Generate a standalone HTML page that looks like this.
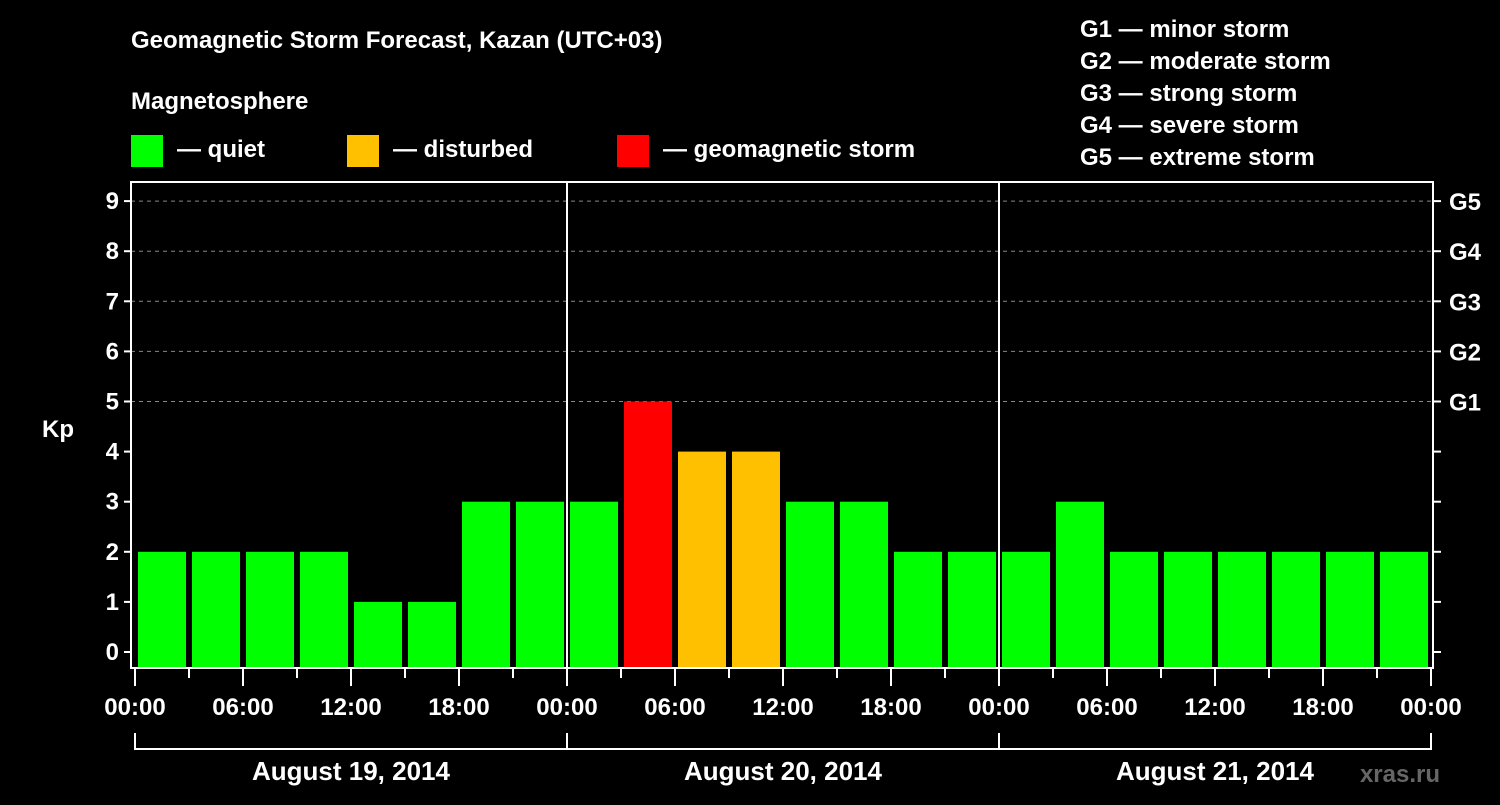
<!DOCTYPE html>
<html><head><meta charset="utf-8"><style>
body{margin:0;background:#000;}
svg text{font-family:"Liberation Sans",Arial,sans-serif;font-weight:bold;fill:#fff;}
</style></head><body>
<svg id="c" width="1500" height="800">
<text x="131" y="48" font-size="24">Geomagnetic Storm Forecast, Kazan (UTC+03)</text>
<text x="131" y="109" font-size="24">Magnetosphere</text>
<g><rect x="131" y="135" width="32" height="32" fill="#00ff00"/><text x="177" y="157" font-size="24">— quiet</text></g>
<g><rect x="347" y="135" width="32" height="32" fill="#ffc000"/><text x="393" y="157" font-size="24">— disturbed</text></g>
<g><rect x="617" y="135" width="32" height="32" fill="#ff0000"/><text x="663" y="157" font-size="24">— geomagnetic storm</text></g>
<g font-size="24">
<text x="1080" y="37">G1 — minor storm</text>
<text x="1080" y="69">G2 — moderate storm</text>
<text x="1080" y="101">G3 — strong storm</text>
<text x="1080" y="133">G4 — severe storm</text>
<text x="1080" y="165">G5 — extreme storm</text>
</g>
<text x="42" y="437" font-size="24">Kp</text>
<text x="1440" y="782" font-size="24" fill="#555" style="fill:#666" text-anchor="end">xras.ru</text>
<g id="plot"></g>
</svg>
<script>
const kpValues=[2,2,2,2,1,1,3,3, 3,5,4,4,3,3,2,2, 2,3,2,2,2,2,2,2];
const dayLabels=["August 19, 2014","August 20, 2014","August 21, 2014"];
const timeLabels=["00:00","06:00","12:00","18:00"];
const gLabels=["G1","G2","G3","G4","G5"];
const L=131,R=1433,T=182,B=668,X0=135,SLOT=54;
const y=v=>652-v*50.1;
const xs=i=>X0+i*SLOT;
const col=v=>v>=5?"#ff0000":v>=4?"#ffc000":"#00ff00";
const g=document.getElementById('plot');
const NS="http://www.w3.org/2000/svg";
function mk(t,a){const e=document.createElementNS(NS,t);for(const k in a)e.setAttribute(k,a[k]);g.appendChild(e);return e;}
for(let v=5;v<=9;v++){const e=mk('line',{x1:L,x2:R,y1:y(v),y2:y(v),stroke:'#888','stroke-dasharray':'4,4','stroke-width':1});

}
kpValues.forEach((v,i)=>{const e=mk('rect',{x:xs(i)+3,y:y(v),width:48,height:B-y(v),fill:col(v)});

});
for(let d=1;d<3;d++){const e=mk('line',{x1:xs(d*8),x2:xs(d*8),y1:T,y2:B,stroke:'#fff','stroke-width':2});

}
const fr=mk('rect',{x:L,y:T,width:R-L,height:B-T,fill:'none',stroke:'#fff','stroke-width':2});


for(let v=0;v<=9;v++){
mk('line',{x1:L-7,x2:L,y1:y(v),y2:y(v),stroke:'#fff','stroke-width':2});
mk('line',{x1:R,x2:R+8,y1:y(v),y2:y(v),stroke:'#fff','stroke-width':2});
const t=mk('text',{x:L-12,y:y(v)+8,'font-size':24,'text-anchor':'end'});t.textContent=v;

}
gLabels.forEach((s,i)=>{const t=mk('text',{x:1449,y:y(5+i)+9,'font-size':24});t.textContent=s;

});
for(let i=0;i<=24;i++){const major=i%2==0;mk('line',{x1:xs(i),x2:xs(i),y1:B,y2:major?686:678,stroke:'#fff','stroke-width':2});
if(major){const t=mk('text',{x:xs(i),y:715,'font-size':24,'text-anchor':'middle'});t.textContent=timeLabels[(i/2)%4];

}}
dayLabels.forEach((s,d)=>{const a=xs(d*8),b=xs(d*8+8);
mk('line',{x1:a,x2:b,y1:749,y2:749,stroke:'#fff','stroke-width':2});
mk('line',{x1:a,x2:a,y1:733,y2:750,stroke:'#fff','stroke-width':2});
mk('line',{x1:b,x2:b,y1:733,y2:750,stroke:'#fff','stroke-width':2});
const t=mk('text',{x:(a+b)/2,y:780,'font-size':26,'text-anchor':'middle'});t.textContent=s;

});
</script>
</body></html>
